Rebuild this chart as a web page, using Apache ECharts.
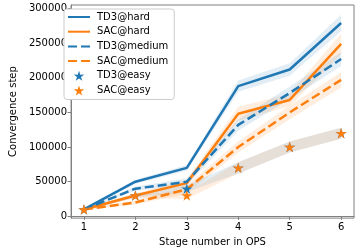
<!DOCTYPE html>
<html>
<head>
<meta charset="utf-8">
<script src="https://cdn.jsdelivr.net/npm/echarts@6/dist/echarts.min.js"></script>
<style>html,body{margin:0;padding:0;background:#fff}#c{width:360px;height:252px}</style>
</head>
<body>
<div id="c"></div>
<script>
var stages = [1, 2, 3, 4, 5, 6];
var yTicks = [0, 50000, 100000, 150000, 200000, 250000, 300000];
var td3Hard = [10000, 50000, 70000, 188000, 212000, 279000];
var sacHard = [10000, 30000, 48000, 148000, 168000, 249000];
var td3Medium = [10000, 40000, 50000, 132000, 178000, 227000];
var sacMedium = [10000, 20000, 39000, 100000, 150000, 197000];
var td3Easy = [10000, 30000, 40000, 70000, 100000, 120000];
var sacEasy = [10000, 30000, 30000, 70000, 100000, 120000];
var td3HardSpread = [1000, 3000, 4000, 8000, 9000, 12000];
var sacHardSpread = [1000, 3000, 5000, 10000, 9000, 15000];
var td3MediumSpread = [1000, 3000, 5000, 8000, 9000, 10000];
var sacMediumSpread = [1000, 3000, 6000, 8000, 10000, 11000];
var td3EasySpread = [1000, 3000, 5000, 8000, 8000, 8000];
var sacEasySpread = [1000, 3000, 5000, 8000, 8000, 8000];

var BLUE = '#1f77b4', ORANGE = '#ff7f0e', GRAY = '#808080';
var FONT = 'DejaVu Sans';
var STAR = 'path://M0,-10 L2.23,-3.07 L9.51,-3.09 L3.61,1.17 L5.88,8.09 L0,3.8 L-5.88,8.09 L-3.61,1.17 L-9.51,-3.09 L-2.23,-3.07 Z';

function pairs(vals) { return stages.map(function (s, i) { return [s, vals[i]]; }); }
function band(vals, spread, color) {
  var rows = stages.map(function (s, i) { return [s, vals[i] - spread[i], vals[i] + spread[i]]; });
  return {
    type: 'custom', data: rows, silent: true, z: 1, clip: true,
    encode: { x: 0, y: [1, 2] },
    renderItem: function (params, api) {
      if (params.dataIndex !== 0) return null;
      var pts = [];
      rows.forEach(function (r) { pts.push(api.coord([r[0], r[2]])); });
      for (var i = rows.length - 1; i >= 0; i--) pts.push(api.coord([rows[i][0], rows[i][1]]));
      return { type: 'polygon', shape: { points: pts }, style: { fill: color, opacity: 0.13 } };
    }
  };
}
function line(name, vals, color, dashed) {
  return { name: name, type: 'line', data: pairs(vals), symbol: 'none', z: 3,
    lineStyle: { color: color, width: 2.5, type: dashed ? [9, 4] : 'solid' }, itemStyle: { color: color } };
}
function stars(name, vals, color) {
  return { name: name, type: 'scatter', data: pairs(vals), symbol: STAR, symbolSize: 11, symbolKeepAspect: true,
    itemStyle: { color: color, opacity: 1 }, z: 4 };
}

var series = [
  band(td3Hard, td3HardSpread, BLUE),
  band(sacHard, sacHardSpread, ORANGE),
  band(td3Medium, td3MediumSpread, BLUE),
  band(sacMedium, sacMediumSpread, ORANGE),
  band(td3Easy, td3EasySpread, BLUE),
  band(sacEasy, sacEasySpread, ORANGE),
  line('TD3@hard', td3Hard, BLUE, false),
  line('SAC@hard', sacHard, ORANGE, false),
  line('TD3@medium', td3Medium, BLUE, true),
  line('SAC@medium', sacMedium, ORANGE, true),
  stars('TD3@easy', td3Easy, BLUE),
  stars('SAC@easy', sacEasy, ORANGE)
];

var chart = echarts.init(document.getElementById('c'), null, { renderer: 'canvas' });
chart.setOption({
  animation: false,
  grid: { left: 59, right: 6, top: 5, bottom: 32, show: true, borderColor: GRAY, borderWidth: 1, backgroundColor: 'transparent' },
  legend: {
    orient: 'vertical', left: 64, top: 9,
    padding: [3, 6, 4, 3], itemGap: 4.7, itemWidth: 22, itemHeight: 10,
    backgroundColor: '#fff', borderColor: '#cccccc', borderWidth: 1, borderRadius: 3,
    itemStyle: { opacity: 0 },
    textStyle: { fontFamily: FONT, fontSize: 10, color: '#000', padding: [0, 0, 0, 2] },
    data: ['TD3@hard', 'SAC@hard', 'TD3@medium', 'SAC@medium',
      { name: 'TD3@easy', icon: STAR, itemStyle: { opacity: 1 } },
      { name: 'SAC@easy', icon: STAR, itemStyle: { opacity: 1 } }]
  },
  xAxis: {
    type: 'value', min: 0.75, max: 6.25,
    name: 'Stage number in OPS', nameLocation: 'middle', nameGap: 15,
    nameTextStyle: { fontFamily: FONT, fontSize: 10, color: '#000' },
    axisLine: { show: true, lineStyle: { color: GRAY, width: 1 } },
    axisTick: { show: true, length: 3.5, lineStyle: { color: GRAY }, customValues: stages },
    axisLabel: { fontFamily: FONT, fontSize: 10, color: '#000', margin: 4, customValues: stages,
      formatter: function (v) { return String(v); } },
    splitLine: { show: false }
  },
  yAxis: {
    type: 'value', min: -2500, max: 305000,
    name: 'Convergence step', nameLocation: 'middle', nameGap: 47,
    nameTextStyle: { fontFamily: FONT, fontSize: 10, color: '#000' },
    axisLine: { show: true, lineStyle: { color: GRAY, width: 1 } },
    axisTick: { show: true, length: 3.5, lineStyle: { color: GRAY }, customValues: yTicks },
    axisLabel: { fontFamily: FONT, fontSize: 10, color: '#000', margin: 4, customValues: yTicks,
      formatter: function (v) { return String(v); } },
    splitLine: { show: false }
  },
  series: series
});
</script>
</body>
</html>
